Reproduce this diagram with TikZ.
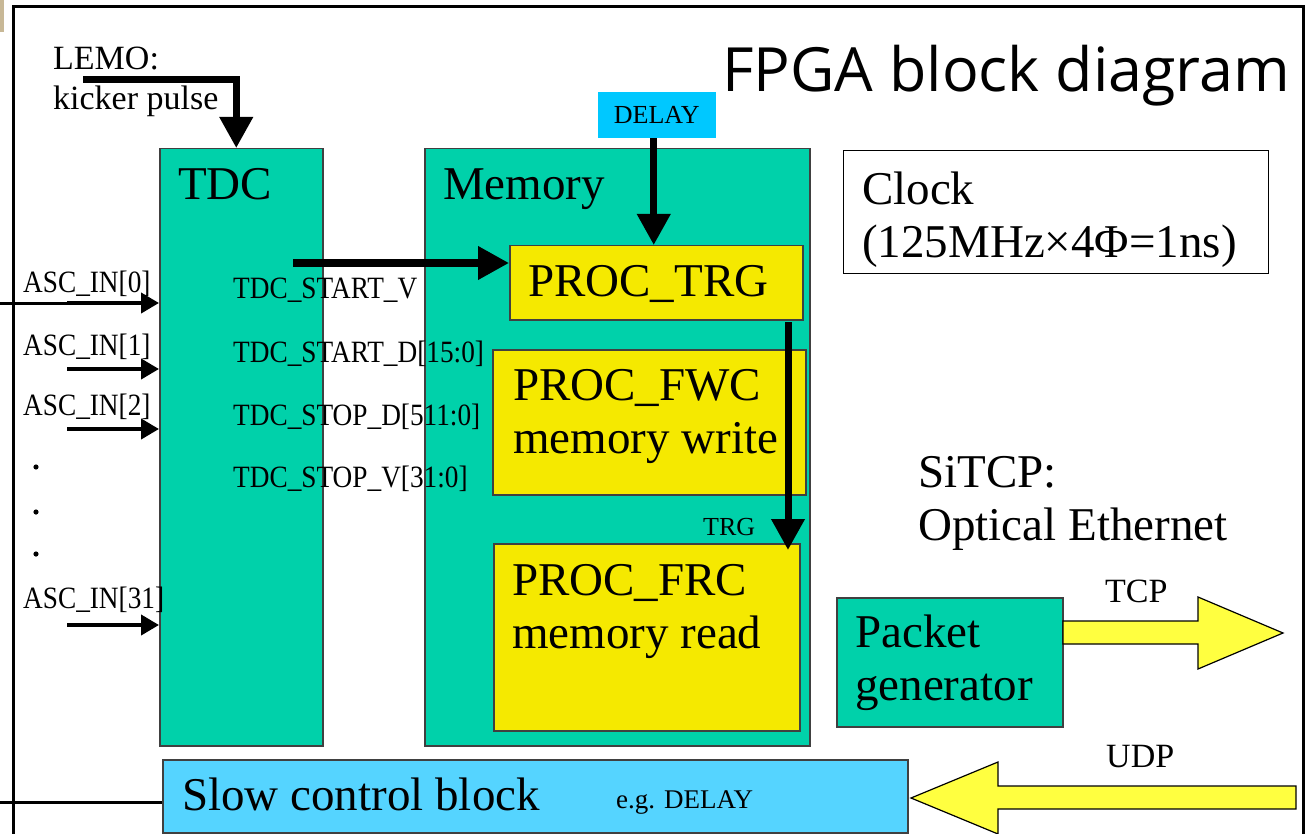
\documentclass[tikz,border=0pt]{standalone}
\usepackage{fontspec}
\setmainfont{Liberation Serif}
\newfontfamily\narrowfont[FakeStretch=0.88]{Liberation Serif}
\newfontfamily\titlefont{Open Sans}
\usepackage{xcolor}
\usepackage{tikz}
\usetikzlibrary{arrows.meta,positioning}

\definecolor{tdcgreen}{RGB}{0,209,170}
\definecolor{procyellow}{RGB}{245,233,0}
\definecolor{delaycyan}{RGB}{0,200,255}
\definecolor{slowblue}{RGB}{85,212,255}
\definecolor{pipeyellow}{RGB}{255,255,64}
\definecolor{cornertan}{RGB}{200,184,150}

\tikzset{
    block/.style={draw=black!75, line width=1.5pt, inner sep=0pt, anchor=north west},
    greenblock/.style={block, fill=tdcgreen},
    procblock/.style={block, fill=procyellow},
    % two-line texts sit on the baseline of their last line
    bigtext/.style={font=\fontsize{47}{53}\selectfont, inner sep=0pt, anchor=base west, align=left},
    midtext/.style={font=\fontsize{34}{40}\selectfont, inner sep=0pt, anchor=base west, align=left},
    sigtext/.style={font=\narrowfont\fontsize{31}{31}\selectfont, inner sep=0pt, anchor=base west},
    bus/.style={line width=7pt, -{Triangle[width=32pt,length=31pt]}},
    pin/.style={line width=4pt, -{Triangle[width=20pt,length=18pt]}},
    pipe/.style={draw=black, line width=1.2pt, fill=pipeyellow},
}

\begin{document}
\begin{tikzpicture}[x=1pt,y=-1pt]
    % page size of the reference, in pixels
    \useasboundingbox (0,0) rectangle (1308,834);
    \fill[white] (0,0) rectangle (1308,834);
    \clip (0,0) rectangle (1308,834);

    % Frame:
    \fill[cornertan] (0,0) rectangle (4,32);
    \draw[line width=3pt] (13,840) -- (13,7) -- (1303,7) -- (1303,840);
    \node[inner sep=0pt, anchor=base west, font=\titlefont\fontsize{61}{61}\selectfont] (title) at (722,92) {FPGA block diagram};

    % Blocks:
    \node[greenblock, minimum width=163, minimum height=597] (tdc) at (159,148) {};
    \node[greenblock, minimum width=385, minimum height=597] (mem) at (424,148) {};
    \node[procblock, minimum width=293, minimum height=74] (trg) at (509,245) {};
    \node[procblock, minimum width=313, minimum height=145] (fwc) at (492,349) {};
    \node[procblock, minimum width=306, minimum height=187] (frc) at (493,543) {};
    \node[block, fill=delaycyan, draw=none, minimum width=118, minimum height=46] (delay) at (597,91) {};
    \node[block, draw=black, line width=1.2pt, fill=white, minimum width=425, minimum height=123] (clock) at (843,150) {};
    \node[greenblock, minimum width=226, minimum height=129] (pktgen) at (836,597) {};
    \node[block, fill=slowblue, minimum width=745, minimum height=73] (slow) at (162,759) {};

    % Texts:
    \node[bigtext] (tdclabel) at (178,200) {TDC};
    \node[bigtext] (memlabel) at (443,200) {Memory};
    \node[bigtext] (trglabel) at (528,296) {PROC\_TRG};
    \node[bigtext] (fwclabel) at (513,453) {PROC\_FWC\\memory write};
    \node[bigtext] (frclabel) at (512,648) {PROC\_FRC\\memory read};
    \node[bigtext] (clocklabel) at (862,258) {Clock\\(125MHz×4Φ=1ns)};
    \node[bigtext] (sitcp) at (918,540) {SiTCP:\\Optical Ethernet};
    \node[bigtext] (pktlabel) at (855,700) {Packet\\generator};
    \node[bigtext] (slowlabel) at (182,810) {Slow control block};
    \node[midtext] (lemo) at (53,110) {LEMO:\\kicker pulse};
    \node[midtext] (tcp) at (1105,602) {TCP};
    \node[midtext] (udp) at (1106,767) {UDP};
    \node[inner sep=0pt, font=\fontsize{26}{26}\selectfont] (delaylabel) at (delay.center) {DELAY};
    \node[inner sep=0pt, anchor=base west, font=\fontsize{26}{26}\selectfont] (trgsig) at (703,535) {TRG};
    \node[inner sep=0pt, anchor=base west, font=\fontsize{27}{27}\selectfont] (eg) at (616,808) {e.g. DELAY};

    % TDC outputs
    \node[sigtext] (startv) at (233,298) {TDC\_START\_V};
    \node[sigtext] (startd) at (233,362) {TDC\_START\_D[15:0]};
    \node[sigtext] (stopd) at (233,425) {TDC\_STOP\_D[511:0]};
    \node[sigtext] (stopv) at (233,487) {TDC\_STOP\_V[31:0]};

    % Inputs:
    \draw[line width=3pt] (0,303) -- (67,303);
    \foreach \ya/\yl/\n in {303/292/0, 369/355/1, 429/415/2, 625/608/31}{%
        \node[sigtext] (asc\n) at (23,\yl) {ASC\_IN[\n]};
        \coordinate (ascin\n) at (67,\ya);
        \draw[pin] (ascin\n) -- (ascin\n -| tdc.west);
    }
    \foreach \y in {467,512,554}{%
        \fill (36,\y) circle (2.6pt);
    }
    \coordinate (slowin) at (0,802);
    \draw[line width=3pt] (slowin) -- (slowin -| slow.west);

    % Arrows:
    \coordinate (lemoin) at (83,80);
    \draw[bus] (lemoin) -| ([xshift=-5pt]tdc.north);
    \coordinate (tdcout) at (293,263);
    \draw[bus] (tdcout) -- (tdcout -| trg.west);
    \draw[bus] ([xshift=-3pt]delay.south) -- ([xshift=-3pt]delay.south |- trg.north);
    \coordinate (trgout) at (788,322);
    \draw[bus] (trgout) -- ([yshift=-7pt]trgout |- frc.north);

    % Fat arrows to the network
    \draw[pipe] (1063,621) -- (1198,621) -- (1198,597) -- (1283,633) -- (1198,669) -- (1198,644) -- (1063,644) -- cycle;
    \draw[pipe] (1296,786) -- (998,786) -- (998,762) -- (911,798) -- (998,834) -- (998,809) -- (1296,809) -- cycle;
\end{tikzpicture}
\end{document}
